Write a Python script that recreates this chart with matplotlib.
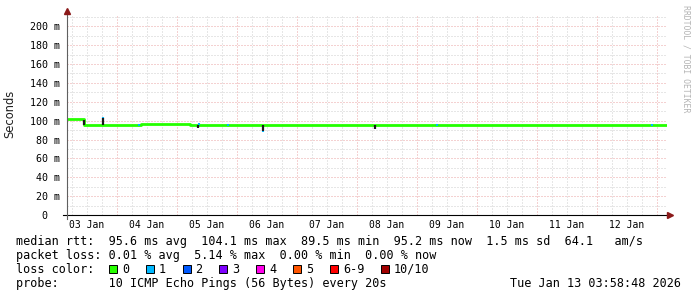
import numpy as np
import matplotlib.pyplot as plt
from matplotlib.patches import Rectangle

# time axis: days since 03 Jan 00:00; graph covers 10 days up to 13 Jan ~04:00
t_start, t_end = 0.167, 10.167
day_labels = ["03 Jan", "04 Jan", "05 Jan", "06 Jan", "07 Jan",
              "08 Jan", "09 Jan", "10 Jan", "11 Jan", "12 Jan"]

# median rtt (ms), step series: segment start and value
med_t = [0.167, 0.45, 1.40, 2.22, 2.36, 9.77, 9.97]
med_v = [101.6, 95.8, 96.4, 95.8, 95.0, 95.4, 95.0]

# smoke spikes (dark): time, low, high (ms)
smoke_t = [0.45, 0.767, 2.35, 3.433, 5.30]
smoke_lo = [95.5, 95.5, 91.8, 89.5, 91.5]
smoke_hi = [101.0, 103.0, 95.2, 95.2, 95.6]

# samples with 1 lost ping (blue): time, low, high (ms)
loss1_t = [0.767, 1.37, 2.37, 2.85, 3.433, 6.33, 9.92]
loss1_lo = [103.0, 94.8, 95.2, 94.0, 88.0, 94.0, 94.4]
loss1_hi = [104.1, 96.6, 98.0, 96.2, 89.5, 96.2, 96.2]

y_ticks = [0, 20, 40, 60, 80, 100, 120, 140, 160, 180, 200]

loss_labels = ["0", "1", "2", "3", "4", "5", "6-9", "10/10"]
loss_colors = ["#26ff00", "#00b8ff", "#0059ff", "#7e00ff", "#ff00ea",
               "#ff5500", "#ff0000", "#a10000"]

W, H = 697, 297
fig = plt.figure(figsize=(W / 100, H / 100), dpi=100)
fig.patch.set_facecolor("white")
ax = fig.add_axes([67 / W, 1 - 215 / H, 600 / W, 200 / H])
ax.set_xlim(t_start, t_end)
ax.set_ylim(0, 212)
for s in ax.spines.values():
    s.set_visible(False)

# grid
ax.set_xticks(np.arange(1, 11))
ax.set_xticks(np.arange(0.25, 10.2, 0.25), minor=True)
ax.set_yticks(y_ticks)
ax.set_yticks(np.arange(10, 212, 10), minor=True)
ax.grid(which="minor", color="#cfcfcf", lw=0.72, ls=(0, (1, 2)))
ax.grid(which="major", color="#eaa4a4", lw=0.72, ls=(0, (1, 2)))
ax.set_axisbelow(True)
ax.tick_params(which="both", length=0)
ax.set_xticklabels([])

ylabels = ["%3d m" % v if v else "  0" for v in y_ticks]
ax.set_yticklabels(ylabels, fontfamily="DejaVu Sans Mono", fontsize=7.2)
ax.tick_params(axis="y", pad=26.6)
for lbl in ax.get_yticklabels():
    lbl.set_ha("left")

for i, lab in enumerate(day_labels):
    ax.text(i + 0.5, -0.025, lab, transform=ax.get_xaxis_transform(),
            ha="center", va="top", fontfamily="DejaVu Sans Mono", fontsize=7.0)

# data
ax.plot(med_t + [t_end], med_v + [med_v[-1]], drawstyle="steps-post",
        color=loss_colors[0], lw=2.0, solid_capstyle="butt", zorder=3)
ax.vlines(smoke_t, smoke_lo, smoke_hi, color="#1a1a1a", lw=1.6, zorder=4)
ax.vlines(loss1_t, loss1_lo, loss1_hi, color=loss_colors[1], lw=1.5, zorder=5)

# axis lines with arrows
ax.plot([-4 / 600, 1 + 4 / 600], [0, 0], transform=ax.transAxes,
        color="black", lw=0.8, clip_on=False, zorder=6)
ax.plot([0, 0], [-4 / 200, 1 + 4 / 200], transform=ax.transAxes,
        color="#606060", lw=0.8, clip_on=False, zorder=6)
ax.plot([1.0058], [0], marker=">", ms=4, color="#8b1a1a",
        transform=ax.transAxes, clip_on=False, zorder=7)
ax.plot([0], [1.022], marker="^", ms=4, color="#8b1a1a",
        transform=ax.transAxes, clip_on=False, zorder=7)

fig.text(10 / W, 1 - 113.5 / H, "Seconds", rotation=90, ha="center",
         va="center", fontsize=8.3, color="#202020")
fig.text(686 / W, 1 - 59 / H, "RRDTOOL / TOBI OETIKER", rotation=270,
         ha="center", va="center", fontfamily="DejaVu Sans Mono",
         fontsize=5.9, color="#b4b4b4")

# legend text
mono = dict(fontfamily="DejaVu Sans Mono", fontsize=8.5, color="black")
rows = [
    "median rtt:  95.6 ms avg  104.1 ms max  89.5 ms min  95.2 ms now  1.5 ms sd  64.1   am/s",
    "packet loss: 0.01 % avg  5.14 % max  0.00 % min  0.00 % now",
    "loss color:",
    "probe:       10 ICMP Echo Pings (56 Bytes) every 20s",
]
for i, row in enumerate(rows):
    fig.text(16 / W, 1 - (245 + 14 * i) / H, row, ha="left", va="baseline", **mono)
fig.text(681 / W, 1 - 287 / H, "Tue Jan 13 03:58:48 2026", ha="right",
         va="baseline", **mono)

bx = 109.0
for lab, col in zip(loss_labels, loss_colors):
    fig.patches.append(Rectangle((bx / W, 1 - 273 / H), 8 / W, 8 / H,
                                 transform=fig.transFigure, facecolor=col,
                                 edgecolor="black", lw=0.7))
    fig.text((bx + 13) / W, 1 - 273 / H, lab, ha="left", va="baseline", **mono)
    bx += 36.8 + 7.1 * (len(lab) - 1)

fig.savefig("out.png", dpi=100, facecolor="white")
